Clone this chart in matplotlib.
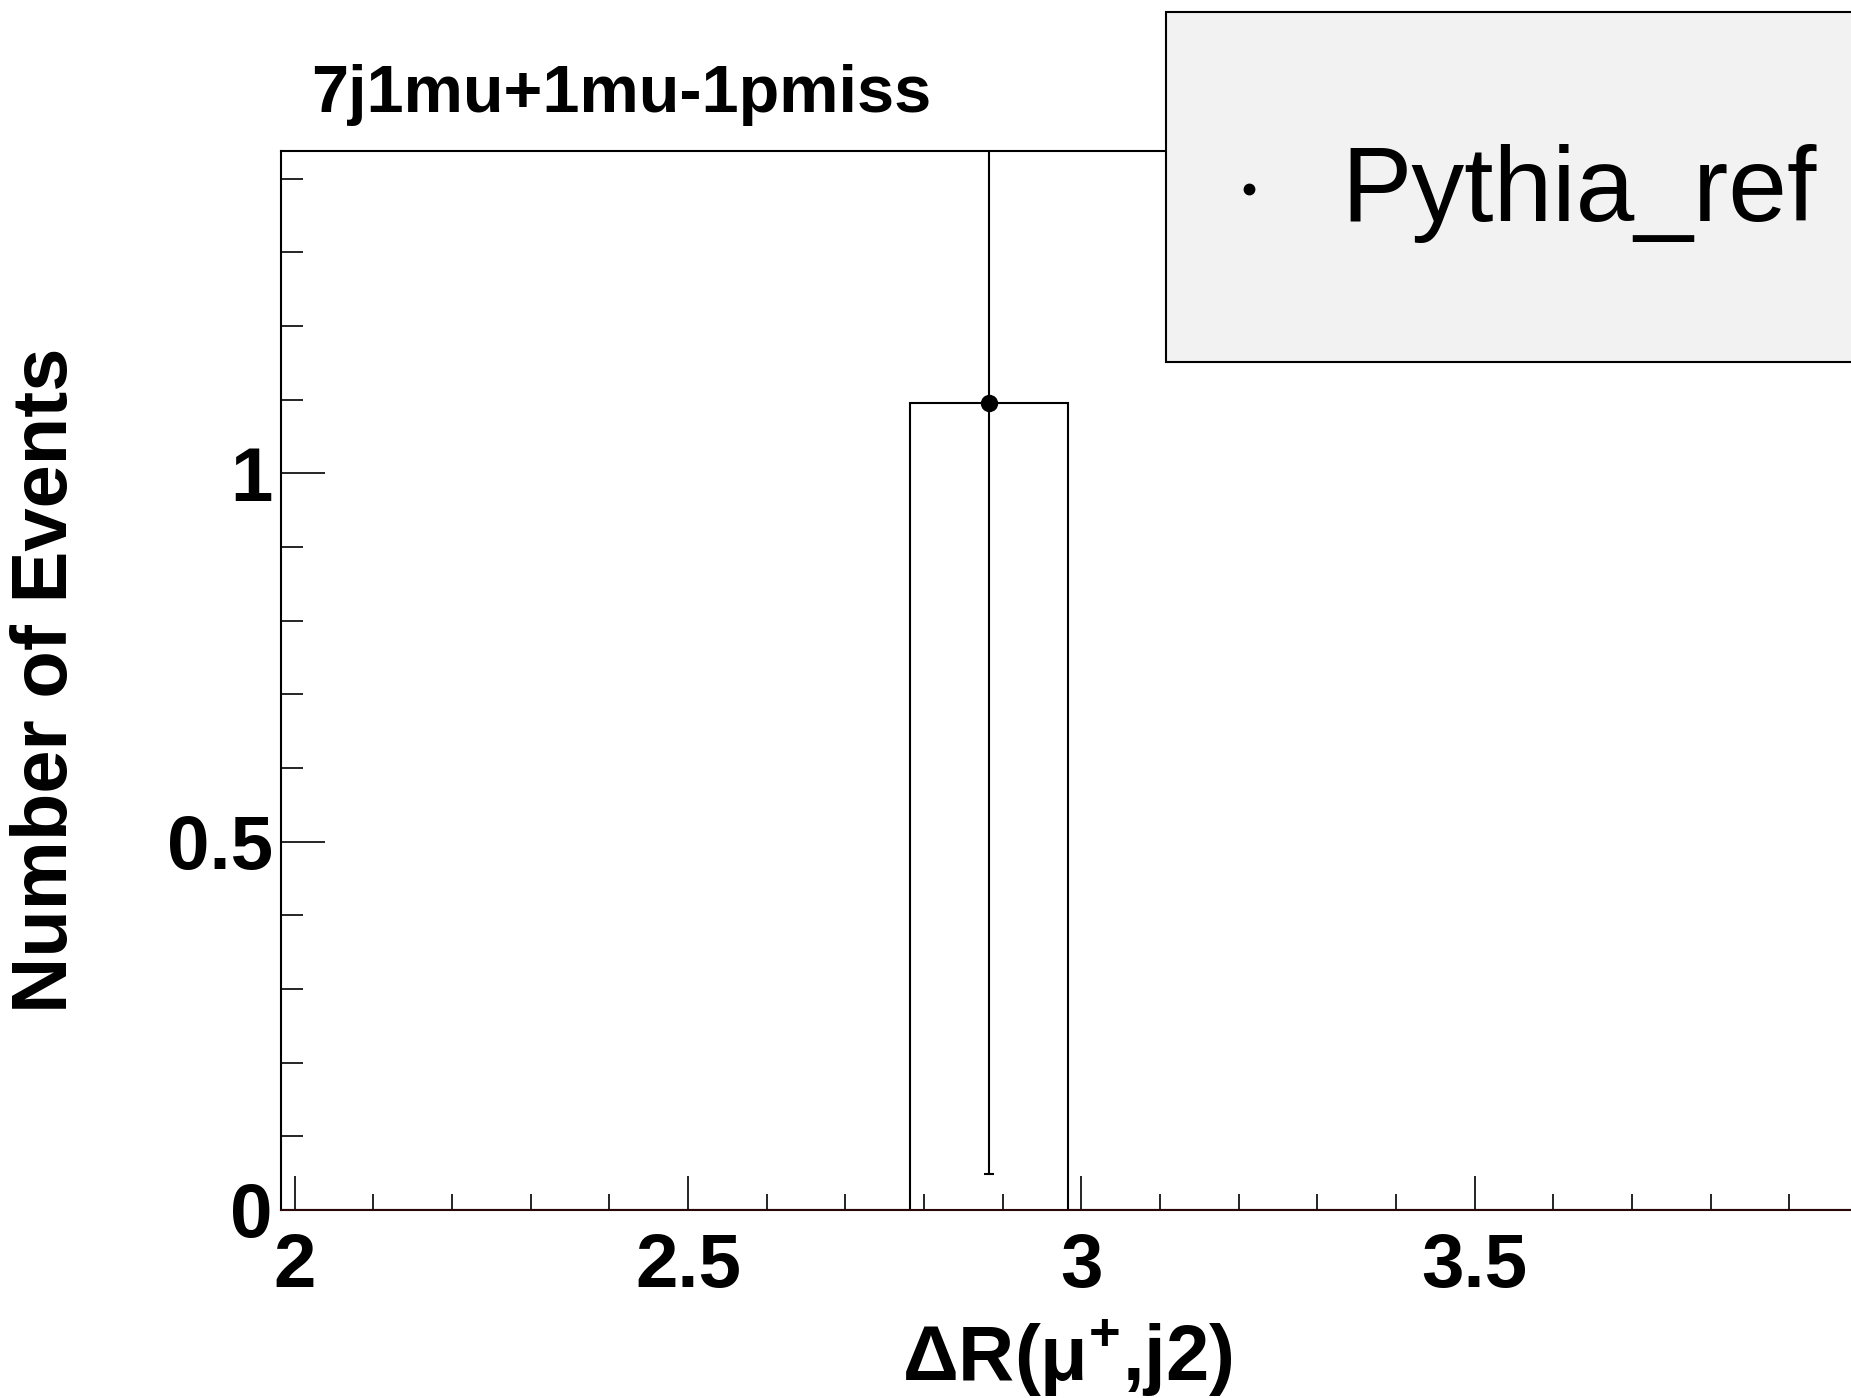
import matplotlib
matplotlib.use("Agg")
import matplotlib.pyplot as plt
import numpy as np
from matplotlib.patches import Rectangle
from matplotlib.lines import Line2D

plt.rcParams['font.family'] = ['Liberation Sans', 'DejaVu Sans']
plt.rcParams['mathtext.fontset'] = 'custom'
plt.rcParams['mathtext.rm'] = 'Liberation Sans'
plt.rcParams['mathtext.bf'] = 'Liberation Sans:bold'

# data
bin_edges = np.round(1.9826 + 0.2 * np.arange(11), 4)
counts = [0, 0, 0, 0, 1.096, 0, 0, 0, 0, 0]
errors = [0, 0, 0, 0, 1.047, 0, 0, 0, 0, 0]
title = "7j1mu+1mu-1pmiss"
legend_label = "Pythia_ref"
x_title = r"ΔR(μ$^{\mathbf{+}}$,j2)"
y_title = "Number of Events"
x_major = [2, 2.5, 3, 3.5]
y_major = [0, 0.5, 1]

W, H = 1851, 1398
fig = plt.figure(figsize=(W / 100, H / 100), dpi=100)
# axes runs a few pixels past the right edge of the canvas, like the original
ax = fig.add_axes([281 / W, 188 / H, 1573.3 / W, 1059 / H])

centers = 0.5 * (bin_edges[:-1] + bin_edges[1:])
ax.stairs(counts, bin_edges, color='black', linewidth=1.5)
nz = [i for i, c in enumerate(counts) if c > 0]
ax.errorbar(centers[nz], np.array(counts)[nz], yerr=np.array(errors)[nz],
            fmt='o', color='black', ms=11.5, elinewidth=1.5, capsize=3.5, capthick=1.5)

ax.set_xlim(bin_edges[0], bin_edges[-1])
ax.set_ylim(0, 1.4377)

ax.set_xticks(x_major)
ax.set_xticklabels([f"{v:g}" for v in x_major])
ax.set_xticks(np.arange(2.0, 3.95, 0.1), minor=True)
ax.set_yticks(y_major)
ax.set_yticklabels([f"{v:g}" for v in y_major])
ax.set_yticks(np.arange(0.1, 1.45, 0.1), minor=True)

ax.tick_params(axis='x', which='major', direction='in', length=24.5, width=1.2,
               labelsize=55, pad=16)
ax.tick_params(axis='x', which='minor', direction='in', length=11.5, width=1.2)
ax.tick_params(axis='y', which='major', direction='in', length=32, width=1.2,
               labelsize=55, pad=6)
ax.tick_params(axis='y', which='minor', direction='in', length=16, width=1.2)
for lab in ax.get_xticklabels() + ax.get_yticklabels():
    lab.set_fontweight('bold')

for s in ax.spines.values():
    s.set_linewidth(1.5)
ax.spines['bottom'].set_color('#2a0808')

ax.set_xlabel(x_title, fontsize=56, fontweight='bold', va='center')
ax.xaxis.set_label_coords(0.5, -0.14)
ax.set_ylabel(y_title, fontsize=56, fontweight='bold', va='center')
ax.yaxis.set_label_coords(-0.149, 0.5)

fig.text(311 / W, 1 - 112 / H, title, fontsize=48, fontweight='bold',
         ha='left', va='baseline')

# legend box
fig.patches.append(Rectangle((1166 / W, 1 - 362 / H), 0.5, 350 / H,
                             transform=fig.transFigure, facecolor='#f2f2f2',
                             edgecolor='black', linewidth=1.5, zorder=5))
fig.lines.append(Line2D([1249 / W], [1 - 189 / H], transform=fig.transFigure,
                        marker='o', ms=7.5, color='black', zorder=6))
fig.text(1341 / W, 1 - 221 / H, legend_label, fontsize=76, ha='left',
         va='baseline', zorder=6)

fig.savefig("out.png", dpi=100)
